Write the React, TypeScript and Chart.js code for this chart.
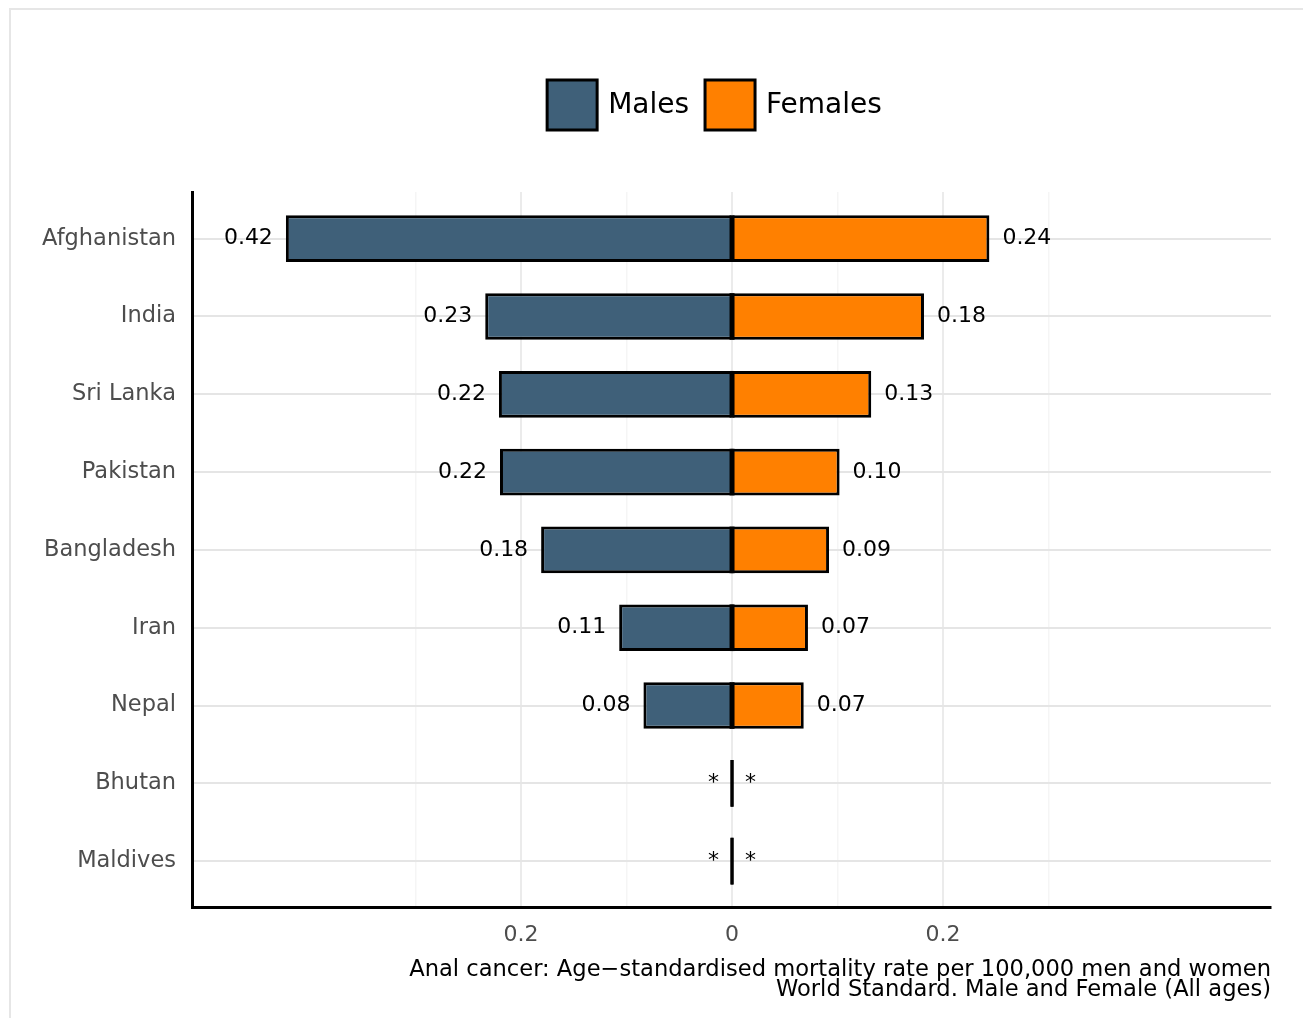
import React, { useEffect, useRef } from 'react';
import { Chart, registerables } from 'chart.js';

Chart.register(...registerables);

const countries = ['Afghanistan', 'India', 'Sri Lanka', 'Pakistan', 'Bangladesh', 'Iran', 'Nepal', 'Bhutan', 'Maldives'];
const malesValues = [0.423, 0.234, 0.221, 0.22, 0.181, 0.107, 0.084, 0, 0];
const femalesValues = [0.244, 0.182, 0.132, 0.102, 0.092, 0.072, 0.068, 0, 0];
const seriesLabels = ['Males', 'Females'];
const seriesColors = ['#3F6079', '#FF8000'];
const majorTickValues = [-0.2, 0, 0.2];
const majorTickLabels = ['0.2', '0', '0.2'];
const minorTickValues = [-0.3, -0.1, 0.1, 0.3];
const axisTitleLines = [
  'Anal cancer: Age\u2212standardised mortality rate per 100,000 men and women',
  'World Standard. Male and Female (All ages)',
];

const FONT = '"DejaVu Sans", sans-serif';

const isMajor = (v: number) => majorTickValues.findIndex((m) => Math.abs(m - v) < 1e-9);

const framePlugin = {
  id: 'frame',
  beforeDraw(chart: any) {
    const { ctx, width, height } = chart;
    ctx.save();
    ctx.strokeStyle = '#e6e6e6';
    ctx.lineWidth = 2;
    ctx.beginPath();
    ctx.moveTo(2, height);
    ctx.lineTo(2, 1);
    ctx.lineTo(width, 1);
    ctx.stroke();
    ctx.restore();
  },
};

const labelPlugin = {
  id: 'barLabels',
  afterDatasetsDraw(chart: any) {
    const ctx = chart.ctx;
    ctx.save();
    ctx.font = `22px ${FONT}`;
    ctx.fillStyle = '#000';
    ctx.textBaseline = 'middle';
    chart.data.datasets.forEach((ds: any, di: number) => {
      const meta = chart.getDatasetMeta(di);
      const values = di === 0 ? malesValues : femalesValues;
      const sign = di === 0 ? -1 : 1;
      meta.data.forEach((el: any, i: number) => {
        const v = values[i];
        const { x, y, base, height } = el.getProps(['x', 'y', 'base', 'height'], true);
        // shared black edge along the zero line
        ctx.strokeStyle = '#000';
        ctx.lineWidth = 3;
        ctx.beginPath();
        ctx.moveTo(base, y - height / 2);
        ctx.lineTo(base, y + height / 2);
        ctx.stroke();
        const text = v === 0 ? '*' : v.toFixed(2);
        ctx.textAlign = di === 0 ? 'right' : 'left';
        ctx.fillText(text, x + sign * 13, y);
      });
    });
    ctx.restore();
  },
};

const legendPlugin = {
  id: 'customLegend',
  afterDraw(chart: any) {
    const { ctx, chartArea } = chart;
    ctx.save();
    ctx.font = `28px ${FONT}`;
    const box = 50;
    const gapText = 11;
    const gapItem = 16;
    const items = chart.data.datasets.map((ds: any) => ({ label: ds.label, color: ds.backgroundColor }));
    const widths = items.map((it: any) => ctx.measureText(it.label).width);
    const total =
      items.reduce((s: number, _it: any, i: number) => s + box + gapText + widths[i], 0) + gapItem * (items.length - 1);
    let x = (chartArea.left + chartArea.right) / 2 - 17 - total / 2;
    const top = chartArea.top - 112;
    items.forEach((it: any, i: number) => {
      ctx.fillStyle = it.color;
      ctx.fillRect(x, top, box, box);
      ctx.strokeStyle = '#000';
      ctx.lineWidth = 3;
      ctx.strokeRect(x, top, box, box);
      ctx.fillStyle = '#000';
      ctx.textAlign = 'left';
      ctx.textBaseline = 'middle';
      ctx.fillText(it.label, x + box + gapText, top + box / 2 + 1);
      x += box + gapText + widths[i] + gapItem;
    });
    ctx.restore();
  },
};

export default function App() {
  const canvasRef = useRef<HTMLCanvasElement | null>(null);

  useEffect(() => {
    if (!canvasRef.current) return;
    const chart = new Chart(canvasRef.current, {
      type: 'bar',
      data: {
        datasets: [
          {
            label: seriesLabels[0],
            data: malesValues.map((v, i) => ({ x: -v, y: i })),
            backgroundColor: seriesColors[0],
            borderColor: '#000',
            borderWidth: 3,
            borderSkipped: 'start',
          },
          {
            label: seriesLabels[1],
            data: femalesValues.map((v, i) => ({ x: v, y: i })),
            backgroundColor: seriesColors[1],
            borderColor: '#000',
            borderWidth: 3,
            borderSkipped: 'start',
          },
        ] as any,
      },
      options: {
        animation: false,
        responsive: true,
        maintainAspectRatio: false,
        indexAxis: 'y',
        layout: { padding: { top: 184, left: 34, right: 32, bottom: 18 } },
        plugins: { legend: { display: false }, tooltip: { enabled: false } },
        datasets: { bar: { barPercentage: 0.6, categoryPercentage: 1 } },
        scales: {
          x: {
            type: 'linear',
            min: -0.512,
            max: 0.511,
            stacked: true,
            afterBuildTicks: (s: any) => {
              s.ticks = [...minorTickValues, ...majorTickValues].sort((a, b) => a - b).map((v) => ({ value: v }));
            },
            ticks: {
              callback: (v: any) => {
                const idx = isMajor(Number(v));
                return idx >= 0 ? majorTickLabels[idx] : '';
              },
              color: '#4d4d4d',
              font: { family: FONT, size: 22 },
              padding: 14,
              maxRotation: 0,
              autoSkip: false,
            },
            grid: {
              color: (c: any) => (c.tick && isMajor(c.tick.value) >= 0 ? '#ebebeb' : '#f5f5f5'),
              lineWidth: (c: any) => (c.tick && isMajor(c.tick.value) >= 0 ? 2 : 1.5),
              drawTicks: false,
            },
            border: { color: '#000', width: 3 },
            title: {
              display: true,
              text: axisTitleLines,
              align: 'end',
              color: '#000',
              font: { family: FONT, size: 22.6, lineHeight: 0.88 },
              padding: { top: -2, bottom: 0 },
            },
          },
          y: {
            type: 'linear',
            min: -0.6,
            max: 8.6,
            reverse: true,
            stacked: true,
            offset: false,
            afterBuildTicks: (s: any) => {
              s.ticks = countries.map((_c, i) => ({ value: i }));
            },
            afterFit: (s: any) => {
              s.width = 150;
            },
            ticks: {
              callback: (v: any) => countries[Number(v)] ?? '',
              color: '#4d4d4d',
              font: { family: FONT, size: 22.5 },
              padding: 16,
              autoSkip: false,
            },
            grid: { color: '#e5e5e5', lineWidth: 2, drawTicks: false, offset: false },
            border: { color: '#000', width: 3 },
          },
        } as any,
      },
      plugins: [framePlugin, labelPlugin, legendPlugin],
    });
    return () => chart.destroy();
  }, []);

  return (
    <div style={{ position: 'relative', width: 1295, height: 1010 }}>
      <canvas ref={canvasRef} />
    </div>
  );
}
